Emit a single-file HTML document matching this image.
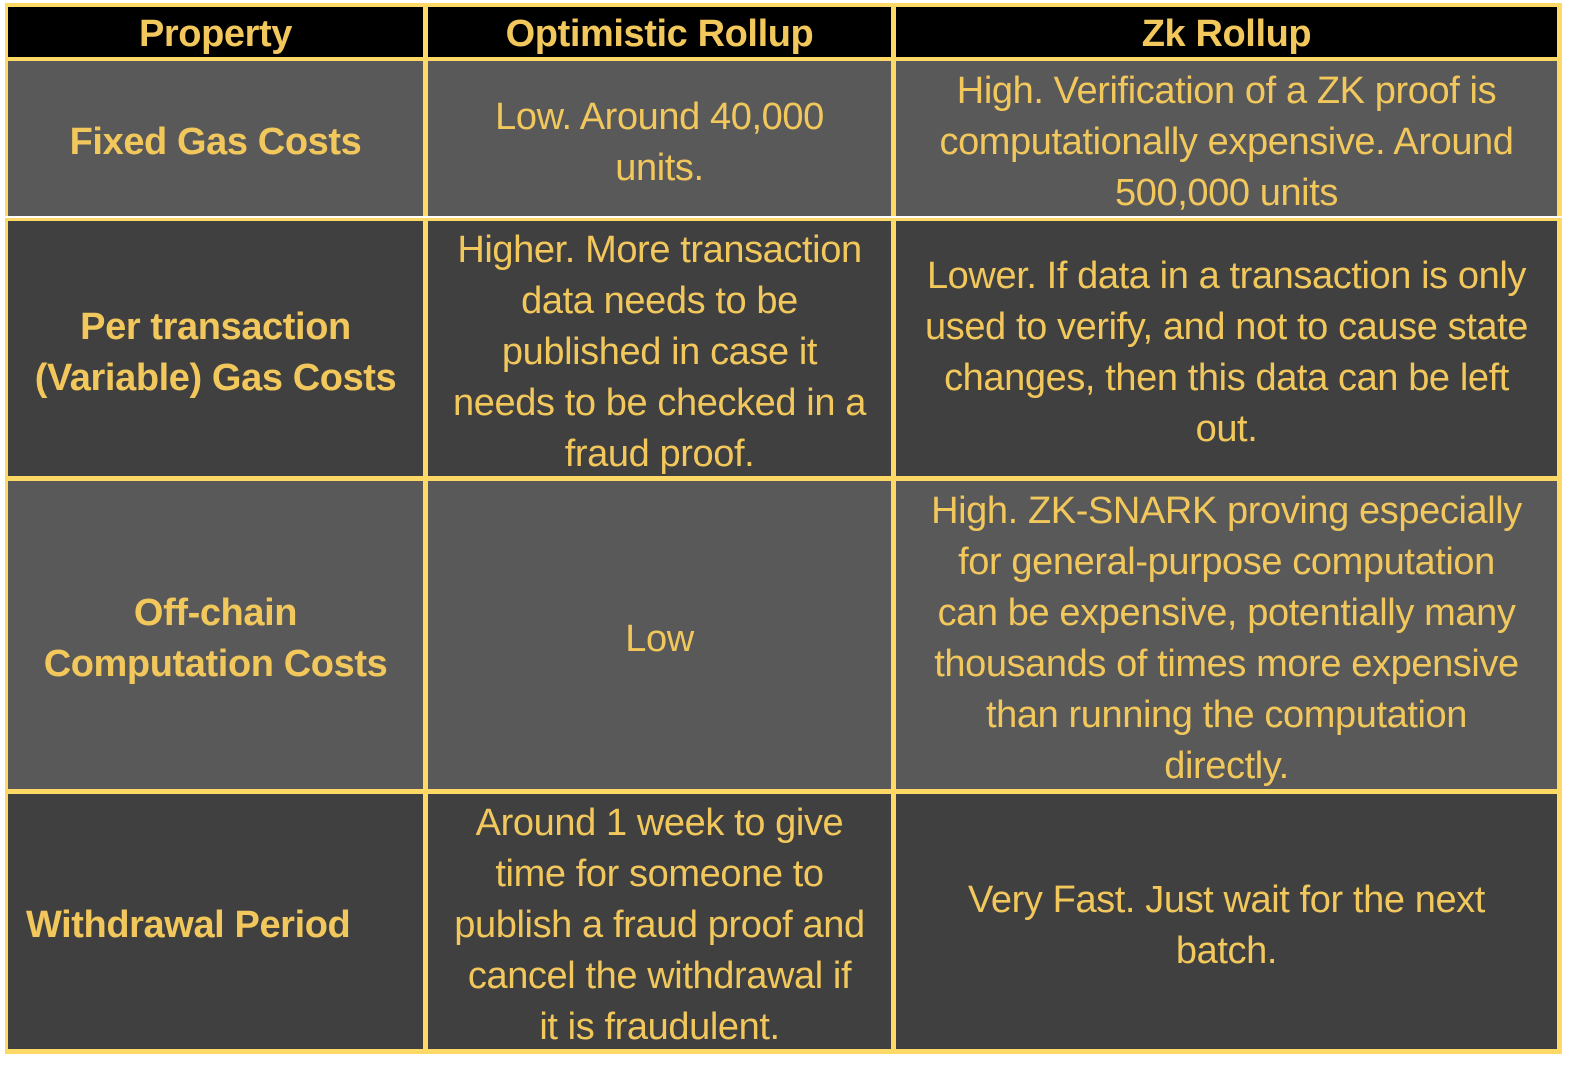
<!DOCTYPE html>
<html><head><style>
body{margin:0;width:1586px;height:1072px;background:#fff;position:relative;overflow:hidden;font-family:"Liberation Sans",sans-serif;}
.frame{position:absolute;left:5px;top:3px;width:1557px;height:1051px;background:#FFD966;}
.c{position:absolute;display:flex;align-items:center;justify-content:center;text-align:center;color:#F2C85C;font-size:38px;line-height:51px;letter-spacing:-0.4px;box-sizing:border-box;white-space:nowrap;padding-top:8px;}
.h{background:#000;font-weight:bold;padding-top:4px;}
.b{font-weight:bold;}
.l{background:#595959}.d{background:#404040}
</style></head><body>
<div class="frame"></div>
<div class="c h" style="left:8px;top:7px;width:415px;height:50px">Property</div>
<div class="c h" style="left:428px;top:7px;width:463px;height:50px">Optimistic Rollup</div>
<div class="c h" style="left:896px;top:7px;width:661px;height:50px">Zk Rollup</div>

<div class="c l b" style="left:8px;top:61px;width:415px;height:155px">Fixed Gas Costs</div>
<div class="c l" style="left:428px;top:61px;width:463px;height:155px">Low. Around 40,000<br>units.</div>
<div class="c l" style="left:896px;top:61px;width:661px;height:155px">High. Verification of a ZK proof is<br>computationally expensive. Around<br>500,000 units</div>
<div style="position:absolute;left:5px;top:216px;width:1557px;height:2px;background:#fff"></div>

<div class="c d b" style="left:8px;top:221px;width:415px;height:255px">Per transaction<br>(Variable) Gas Costs</div>
<div class="c d" style="left:428px;top:221px;width:463px;height:255px">Higher. More transaction<br>data needs to be<br>published in case it<br>needs to be checked in a<br>fraud proof.</div>
<div class="c d" style="left:896px;top:221px;width:661px;height:255px">Lower. If data in a transaction is only<br>used to verify, and not to cause state<br>changes, then this data can be left<br>out.</div>

<div class="c l b" style="left:8px;top:481px;width:415px;height:308px">Off-chain<br>Computation Costs</div>
<div class="c l" style="left:428px;top:481px;width:463px;height:308px">Low</div>
<div class="c l" style="left:896px;top:481px;width:661px;height:308px">High. ZK-SNARK proving especially<br>for general-purpose computation<br>can be expensive, potentially many<br>thousands of times more expensive<br>than running the computation<br>directly.</div>

<div class="c d b" style="left:8px;top:794px;width:415px;height:255px;justify-content:flex-start;padding-left:18px">Withdrawal Period</div>
<div class="c d" style="left:428px;top:794px;width:463px;height:255px">Around 1 week to give<br>time for someone to<br>publish a fraud proof and<br>cancel the withdrawal if<br>it is fraudulent.</div>
<div class="c d" style="left:896px;top:794px;width:661px;height:255px">Very Fast. Just wait for the next<br>batch.</div>
</body></html>
